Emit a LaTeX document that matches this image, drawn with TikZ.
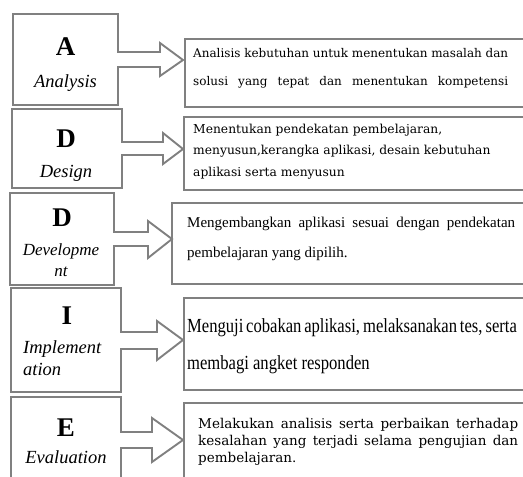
\documentclass[tikz,border=0pt]{standalone}
\usepackage{fontspec}
\setmainfont{Liberation Serif}
\newfontfamily\dvs{DejaVu Serif}
\newfontfamily\condserif[FakeStretch=0.83]{Liberation Serif}
\definecolor{gline}{HTML}{808080}
\tikzset{
  gbox/.style={draw=gline, line width=1.9pt, fill=white, line join=miter},
  letter/.style={anchor=base, inner sep=0pt, font=\fontsize{27}{27}\selectfont\bfseries},
  phase/.style={anchor=base, inner sep=0pt, font=\fontsize{18.5}{18.5}\selectfont\itshape},
  desc/.style={anchor=base west, inner sep=0pt},
  descA/.style={desc, font=\dvs\fontsize{12}{12}\selectfont},
  descD/.style={desc, font=\dvs\fontsize{12.3}{12.3}\selectfont},
  descDev/.style={desc, font=\fontsize{15}{15}\selectfont},
  descI/.style={desc, font=\condserif\fontsize{20}{20}\selectfont},
  descE/.style={desc, font=\dvs\fontsize{13.5}{13.5}\selectfont},
}
\begin{document}
\begin{tikzpicture}[x=1pt,y=-1pt]
\useasboundingbox (0,0) rectangle (523,477);
\clip (0,0) rectangle (523,477);

% ---------- A : Analysis ----------
\draw[gbox] (185,39) rectangle (540,107);
\draw[gbox] (13,14) -- (118,14) -- (118,52) -- (160,52) -- (160,43) -- (183,60) coordinate (tipA)
  -- (160,76) -- (160,67) -- (118,67) -- (118,105) -- (13,105) -- cycle;
\node[letter] (lA) at (65.5,55) {A};
\node[phase] (pA) at (65.5,87) {Analysis};
\node[descA] (tA1) at (193,57) {\makebox[315pt][s]{Analisis kebutuhan untuk menentukan masalah dan}};
\node[descA] (tA2) at (193,85) {\makebox[315pt][s]{solusi yang tepat dan menentukan kompetensi}};

% ---------- D : Design ----------
\draw[gbox] (184,117) rectangle (540,190);
\draw[gbox] (12,109) -- (122,109) -- (122,142) -- (163,142) -- (163,133) -- (183,149) coordinate (tipD)
  -- (163,164) -- (163,155) -- (122,155) -- (122,188) -- (12,188) -- cycle;
\node[letter] (lD) at (66,147) {D};
\node[phase] (pD) at (66,177) {Design};
\node[descD] (tD1) at (193,133) {Menentukan pendekatan pembelajaran,};
\node[descD] (tD2) at (193,154) {menyusun,kerangka aplikasi, desain kebutuhan};
\node[descD] (tD3) at (193,176) {aplikasi serta menyusun};

% ---------- D : Development ----------
\draw[gbox] (172,203) rectangle (540,284);
\draw[gbox] (10,193) -- (114,193) -- (114,232) -- (148,232) -- (148,221) -- (172,239) coordinate (tipDev)
  -- (148,258) -- (148,246) -- (114,246) -- (114,285) -- (10,285) -- cycle;
\node[letter] (lDev) at (62,226) {D};
\node[phase, font=\fontsize{17}{17}\selectfont\itshape] (pDev1) at (61,255) {Developme};
\node[phase, font=\fontsize{17}{17}\selectfont\itshape] (pDev2) at (61,276) {nt};
\node[descDev] (tDev1) at (187,227) {\makebox[328pt][s]{Mengembangkan aplikasi sesuai dengan pendekatan}};
\node[descDev] (tDev2) at (187,257) {pembelajaran yang dipilih.};

% ---------- I : Implementation ----------
\draw[gbox] (184,298) rectangle (540,390);
\draw[gbox] (11,288) -- (121,288) -- (121,332) -- (157,332) -- (157,321) -- (183,340) coordinate (tipI)
  -- (157,360) -- (157,349) -- (121,349) -- (121,392) -- (11,392) -- cycle;
\node[letter] (lI) at (67,324) {I};
\node[phase, anchor=base west] (pI1) at (23,353) {Implement};
\node[phase, anchor=base west] (pI2) at (23,375) {ation};
\node[descI] (tI1) at (187,332) {\makebox[328pt][s]{Menguji cobakan aplikasi, melaksanakan tes, serta}};
\node[descI] (tI2) at (187,369) {membagi angket responden};

% ---------- E : Evaluation ----------
\draw[gbox] (184,403) rectangle (540,495);
\draw[gbox] (11,397) -- (121,397) -- (121,432) -- (152,432) -- (152,418) -- (183,440) coordinate (tipE)
  -- (152,462) -- (152,448) -- (121,448) -- (121,495) -- (11,495) -- cycle;
\node[letter] (lE) at (66,436) {E};
\node[phase] (pE) at (66,463) {Evaluation};
\node[descE] (tE1) at (198,428) {\makebox[320pt][s]{Melakukan analisis serta perbaikan terhadap}};
\node[descE] (tE2) at (198,445) {\makebox[320pt][s]{kesalahan yang terjadi selama pengujian dan}};
\node[descE] (tE3) at (198,462) {pembelajaran.};
\end{tikzpicture}
\end{document}
